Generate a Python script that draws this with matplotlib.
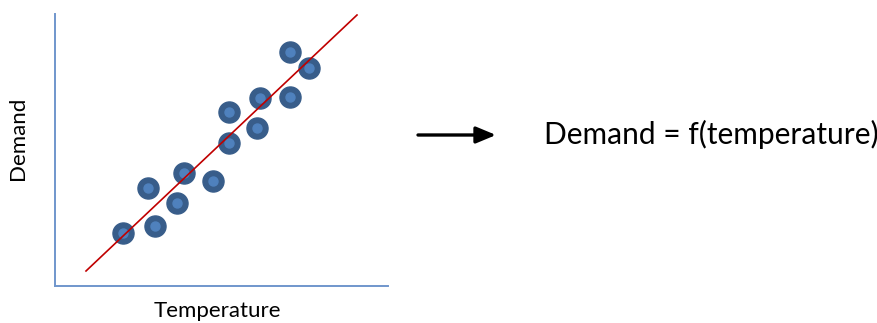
import matplotlib.pyplot as plt
from matplotlib.patches import FancyArrowPatch

# data (arbitrary units)
temperature = [68, 93, 100, 122, 129, 158, 174, 174, 202, 205, 235, 235, 254]
demand = [53, 98, 60, 83, 113, 105, 174, 143, 158, 188, 234, 189, 218]
fit_x = [31, 302]
fit_y = [15, 271]

plt.rcParams['font.family'] = ['Lato', 'DejaVu Sans']

fig = plt.figure(figsize=(8.78, 3.23), dpi=100)
ax = fig.add_axes([55 / 878, 37 / 323, 333 / 878, 272 / 323])

ax.scatter(temperature, demand, s=230, color="#385d8a", zorder=2)
ax.scatter(temperature, demand, s=42, color="#4f81bd", zorder=3)
ax.plot(fit_x, fit_y, color="#c00000", lw=1.2, zorder=4)

ax.set_xlim(0, 333)
ax.set_ylim(0, 272)
ax.set_xticks([])
ax.set_yticks([])
for side in ["top", "right"]:
    ax.spines[side].set_visible(False)
for side in ["left", "bottom"]:
    ax.spines[side].set_color("#7096cc")
    ax.spines[side].set_linewidth(1.4)

fig.text(217 / 878, 1 - 311 / 323, "Temperature", fontsize=16,
         ha="center", va="center")
fig.text(18 / 878, 1 - 138 / 323, "Demand", fontsize=16, rotation=90,
         ha="center", va="center")

fig.add_artist(FancyArrowPatch(
    (418 / 878, 1 - 135 / 323), (496 / 878, 1 - 135 / 323),
    transform=fig.transFigure, arrowstyle="-|>,head_length=12,head_width=5",
    color="black", lw=2.4, mutation_scale=1, shrinkA=0, shrinkB=0))
fig.text(711 / 878, 1 - 134 / 323, "Demand = f(temperature)", fontsize=21.5,
         ha="center", va="center")

plt.savefig("out.png", dpi=100)
plt.close()
